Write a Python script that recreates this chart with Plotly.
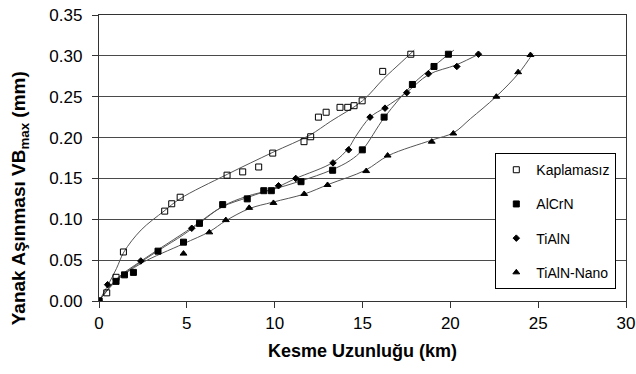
import plotly.graph_objects as go

# ---- measured points ----
kap_x = [0, 0.44, 0.97, 1.39, 3.74, 4.14, 4.62, 7.29, 8.18, 9.09, 9.89, 11.67, 12.05, 12.49, 12.93, 13.72, 14.16, 14.52, 14.98, 16.15, 17.75]
kap_y = [0, 0.010, 0.029, 0.060, 0.110, 0.119, 0.127, 0.154, 0.158, 0.164, 0.181, 0.195, 0.201, 0.225, 0.231, 0.237, 0.237, 0.239, 0.245, 0.281, 0.302]

alc_x = [0, 0.97, 1.45, 1.96, 3.36, 4.81, 5.72, 7.04, 8.44, 9.38, 9.81, 11.50, 13.30, 14.99, 16.23, 17.84, 19.07, 19.89]
alc_y = [0, 0.024, 0.032, 0.035, 0.061, 0.072, 0.095, 0.118, 0.125, 0.135, 0.135, 0.146, 0.160, 0.185, 0.225, 0.265, 0.287, 0.302]

tia_x = [0, 0.49, 2.38, 5.28, 10.22, 11.20, 13.32, 14.21, 15.43, 16.28, 17.52, 18.75, 20.37, 21.60]
tia_y = [0, 0.020, 0.049, 0.089, 0.141, 0.150, 0.169, 0.185, 0.225, 0.236, 0.255, 0.278, 0.287, 0.302]

nan_x = [0, 4.81, 6.28, 7.22, 8.55, 9.93, 11.68, 13.01, 15.21, 16.43, 18.94, 20.17, 22.62, 23.86, 24.56]
nan_y = [0, 0.058, 0.084, 0.099, 0.114, 0.120, 0.131, 0.142, 0.159, 0.178, 0.195, 0.205, 0.250, 0.280, 0.301]

# ---- trend curves ----
kap_cx = [0, 0.5, 1.0, 1.42, 2.4, 3.7, 4.6, 7.3, 9.9, 12.0, 13.2, 15.0, 16.2, 17.2, 17.95]
kap_cy = [0, 0.019, 0.040, 0.060, 0.087, 0.110, 0.125, 0.155, 0.182, 0.203, 0.220, 0.245, 0.272, 0.292, 0.307]

alc_cx = [0, 1.0, 2.2, 3.4, 4.8, 5.7, 7.05, 8.4, 9.8, 11.5, 13.2, 14.3, 15.0, 16.26, 17.85, 19.1, 20.2]
alc_cy = [0, 0.026, 0.045, 0.062, 0.081, 0.095, 0.116, 0.128, 0.136, 0.147, 0.160, 0.172, 0.185, 0.225, 0.265, 0.288, 0.307]

tia_cx = [0, 1.0, 2.4, 5.3, 7.0, 8.5, 10.2, 11.2, 13.35, 14.2, 14.6, 15.44, 16.3, 17.5, 18.76, 20.34, 21.7]
tia_cy = [0, 0.027, 0.049, 0.090, 0.115, 0.127, 0.140, 0.150, 0.170, 0.187, 0.201, 0.225, 0.237, 0.255, 0.277, 0.289, 0.303]

nan_cx = [0, 1.0, 2.4, 4.8, 6.3, 7.2, 8.55, 9.9, 11.7, 13.1, 15.16, 16.48, 18.96, 20.19, 21.14, 22.6, 23.9, 24.7]
nan_cy = [0, 0.025, 0.046, 0.070, 0.085, 0.098, 0.113, 0.121, 0.131, 0.143, 0.160, 0.178, 0.197, 0.206, 0.223, 0.250, 0.279, 0.303]

names = ["Kaplamasız", "AlCrN", "TiAlN", "TiAlN-Nano"]
symbols = ["square-open", "square", "diamond", "triangle-up"]
sizes = [6, 6, 5, 6]

pts = [(kap_x, kap_y), (alc_x, alc_y), (tia_x, tia_y), (nan_x, nan_y)]
crv = [(kap_cx, kap_cy), (alc_cx, alc_cy), (tia_cx, tia_cy), (nan_cx, nan_cy)]

fig = go.Figure()
for (cx, cy) in crv:
    fig.add_trace(go.Scatter(x=cx, y=cy, mode="lines", line=dict(color="#555555", width=1, shape="spline", smoothing=1.0),
                             showlegend=False, hoverinfo="skip"))
for i, (px, py) in enumerate(pts):
    fig.add_trace(go.Scatter(x=px, y=py, mode="markers", name=names[i], legendgroup=names[i],
                             marker=dict(symbol=symbols[i], size=sizes[i], color="black",
                                         line=dict(color="black", width=1))))

font_fam = "Liberation Sans, Arial, sans-serif"
fig.update_layout(
    width=636, height=374,
    margin=dict(l=99, r=10, t=15, b=73, autoexpand=False),
    paper_bgcolor="white", plot_bgcolor="white",
    font=dict(family=font_fam, color="black"),
    legend=dict(x=0.752, y=0.517, xanchor="left", yanchor="top",
                bordercolor="black", borderwidth=1, bgcolor="white",
                font=dict(size=14, family=font_fam), traceorder="grouped", tracegroupgap=13,
                itemsizing="trace", itemwidth=30),
    xaxis=dict(range=[0, 30], tickvals=[0, 5, 10, 15, 20, 25, 30], ticks="outside", ticklen=6, tickwidth=1.3,
               tickcolor="#333", showline=True, linecolor="#333", linewidth=1.3, mirror=True,
               showgrid=False, zeroline=False, tickfont=dict(size=17), automargin=False,
               title=dict(text="<b>Kesme Uzunluğu (km)</b>", font=dict(size=18), standoff=12)),
    yaxis=dict(range=[0, 0.35], tickvals=[0, 0.05, 0.10, 0.15, 0.20, 0.25, 0.30, 0.35], tickformat=".2f",
               ticks="outside", ticklen=6, tickwidth=1.3, tickcolor="#333",
               showline=True, linecolor="#333", linewidth=1.3, mirror=True,
               showgrid=True, gridcolor="#4a4a4a", gridwidth=1.3, zeroline=False, automargin=False,
               tickfont=dict(size=17), ticklabelstandoff=6),
    annotations=[dict(text="<b>Yanak Aşınması VB<sub>max</sub> (mm)</b>", textangle=-90,
                      xref="paper", yref="paper", x=(20 - 99) / 527, y=(300.6 - 198) / 285.6,
                      xanchor="center", yanchor="middle", showarrow=False, font=dict(size=19))],
)
fig.write_html("out.html")
